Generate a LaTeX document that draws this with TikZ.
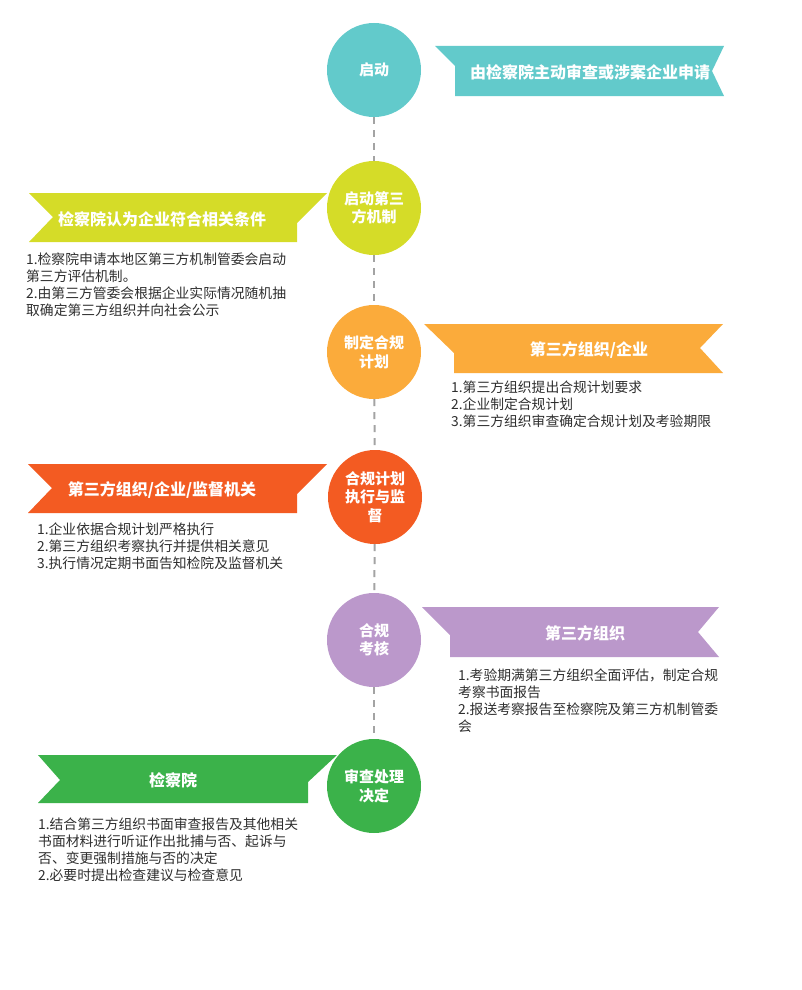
\documentclass[tikz,border=0pt]{standalone}
\usepackage{fontspec}
\setmainfont{Noto Sans CJK SC}
\usepackage{tikz}
\usetikzlibrary{positioning}
\definecolor{qiteal}{HTML}{62CACB}
\definecolor{qilime}{HTML}{D5DC28}
\definecolor{qiorange}{HTML}{FBAB3B}
\definecolor{qired}{HTML}{F35B22}
\definecolor{qipurple}{HTML}{BB98CB}
\definecolor{qigreen}{HTML}{3BB24A}
\definecolor{dashgray}{HTML}{A3A3A3}
\definecolor{textgray}{HTML}{2E2E2E}
\tikzset{stage/.style={circle,fill=#1,text=white,minimum size=94pt,inner sep=0pt,align=center,font=\fontsize{15}{18.5}\selectfont\bfseries}}
\tikzset{bannertitle/.style={text=white,inner sep=0pt,font=\fontsize{16}{18}\selectfont\bfseries}}
\tikzset{infotext/.style={align=left,anchor=north west,text=textgray,inner sep=0pt,font=\fontsize{13.8}{17}\selectfont}}
\tikzset{timeline/.style={draw=dashgray,line width=2pt,dash pattern=on 7pt off 6pt}}

\begin{document}
\begin{tikzpicture}[x=1pt,y=-1pt]
    \useasboundingbox (0,0) rectangle (801,990);

    % ribbons
    \fill[qiteal]   (435,46)  -- (724,46)  -- (712,71)  -- (724,96)  -- (455,96)  -- (455,66)  -- cycle;
    \fill[qilime]   (29,193)  -- (327,193) -- (297,223) -- (297,242) -- (29,242)  -- (53,217)  -- cycle;
    \fill[qiorange] (424,324) -- (723,324) -- (700,348) -- (723,373) -- (454,373) -- (454,353) -- cycle;
    \fill[qired]    (28,464)  -- (327,464) -- (297,494) -- (297,513) -- (28,513)  -- (52,488)  -- cycle;
    \fill[qipurple] (422,607) -- (719,607) -- (698,632) -- (719,657) -- (450,657) -- (450,635) -- cycle;
    \fill[qigreen]  (38,755)  -- (337,755) -- (308,782) -- (308,803) -- (38,803)  -- (60,780)  -- cycle;

    \node[stage=qiteal]   (start)   at (374,70)  {启动};
    \node[stage=qilime]   (launch)  at (374,208) {启动第三\\方机制};
    \node[stage=qiorange] (plan)    at (374,352) {制定合规\\计划};
    \node[stage=qired]    (execute) at (375,497) {合规计划\\执行与监\\督};
    \node[stage=qipurple] (assess)  at (374,640) {合规\\考核};
    \node[stage=qigreen]  (decide)  at (374,786) {审查处理\\决定};

    \draw[timeline] (start) -- (launch);
    \draw[timeline] (launch) -- (plan);
    \draw[timeline] (plan) -- (execute);
    \draw[timeline] (execute) -- (assess);
    \draw[timeline] (assess) -- (decide);

    \node[bannertitle] (tstart)   at (590,72)  {由检察院主动审查或涉案企业申请};
    \node[bannertitle] (tlaunch)  at (162,219) {检察院认为企业符合相关条件};
    \node[bannertitle] (tplan)    at (589,350) {第三方组织/企业};
    \node[bannertitle] (texecute) at (162,490) {第三方组织/企业/监督机关};
    \node[bannertitle] (tassess)  at (585,633) {第三方组织};
    \node[bannertitle] (tdecide)  at (173,780) {检察院};

    \node[infotext] (ilaunch)  at (26,253)  {1.检察院申请本地区第三方机制管委会启动\\第三方评估机制。\\2.由第三方管委会根据企业实际情况随机抽\\取确定第三方组织并向社会公示};
    \node[infotext] (iplan)    at (451,381) {1.第三方组织提出合规计划要求\\2.企业制定合规计划\\3.第三方组织审查确定合规计划及考验期限};
    \node[infotext] (iexecute) at (37,523)  {1.企业依据合规计划严格执行\\2.第三方组织考察执行并提供相关意见\\3.执行情况定期书面告知检院及监督机关};
    \node[infotext] (iassess)  at (458,669) {1.考验期满第三方组织全面评估，制定合规\\考察书面报告\\2.报送考察报告至检察院及第三方机制管委\\会};
    \node[infotext] (idecide)  at (38,818)  {1.结合第三方组织书面审查报告及其他相关\\书面材料进行听证作出批捕与否、起诉与\\否、变更强制措施与否的决定\\2.必要时提出检查建议与检查意见};
\end{tikzpicture}
\end{document}
